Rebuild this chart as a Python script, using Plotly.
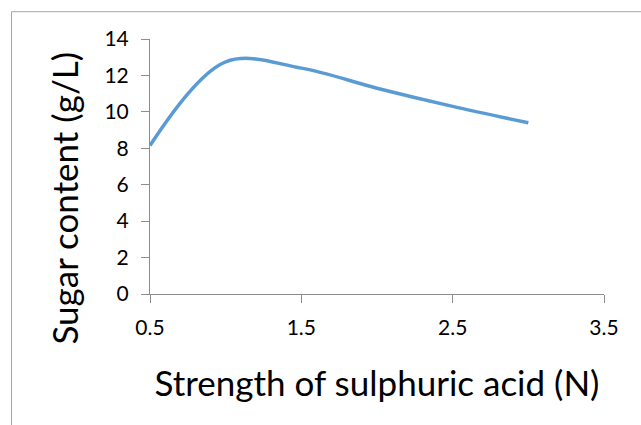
import plotly.graph_objects as go

strength = [0.5, 1.0, 1.5, 2.0, 2.5, 3.0]
sugar = [8.15, 12.75, 12.4, 11.3, 10.3, 9.4]
x_ticks = [0.5, 1.5, 2.5, 3.5]
y_ticks = [0, 2, 4, 6, 8, 10, 12, 14]

FONT = "Lato"
AXC = "#8c8c8c"

fig = go.Figure()
fig.add_trace(go.Scatter(
    x=strength, y=sugar, mode="lines",
    line=dict(color="#5B9BD5", width=3.5, shape="spline", smoothing=1.0),
    showlegend=False, hoverinfo="skip",
))

fig.add_shape(type="rect", xref="paper", yref="paper",
              x0=-0.305, x1=1.2, y0=-0.6, y1=1.107,
              line=dict(color="#a6a6a6", width=1), fillcolor="rgba(0,0,0,0)",
              layer="below")

fig.add_annotation(text="Sugar content (g/L)", textangle=-90,
                   xref="paper", yref="paper", x=-0.19, y=0.377,
                   xanchor="center", yanchor="middle", showarrow=False,
                   font=dict(size=35, family=FONT, color="#000000"))

fig.update_layout(
    width=641, height=425,
    margin=dict(l=150, r=37, t=39, b=131),
    paper_bgcolor="white", plot_bgcolor="white",
    font=dict(family=FONT, color="#000000"),
    xaxis=dict(
        range=[0.5, 3.5], tickvals=x_ticks, ticktext=[str(v) for v in x_ticks],
        showgrid=False, zeroline=False, showline=True, linecolor=AXC, linewidth=1,
        ticks="outside", ticklen=8, tickcolor=AXC,
        tickfont=dict(size=21, family=FONT), ticklabelstandoff=7,
        title=dict(text="Strength of sulphuric acid (N)", font=dict(size=35, family=FONT), standoff=33),
    ),
    yaxis=dict(
        range=[0, 14], tickvals=y_ticks,
        showgrid=False, zeroline=False, showline=True, linecolor=AXC, linewidth=1,
        ticks="outside", ticklen=8, tickcolor=AXC,
        tickfont=dict(size=21, family=FONT), ticklabelstandoff=8,
    ),
)

fig.write_html("out.html")
